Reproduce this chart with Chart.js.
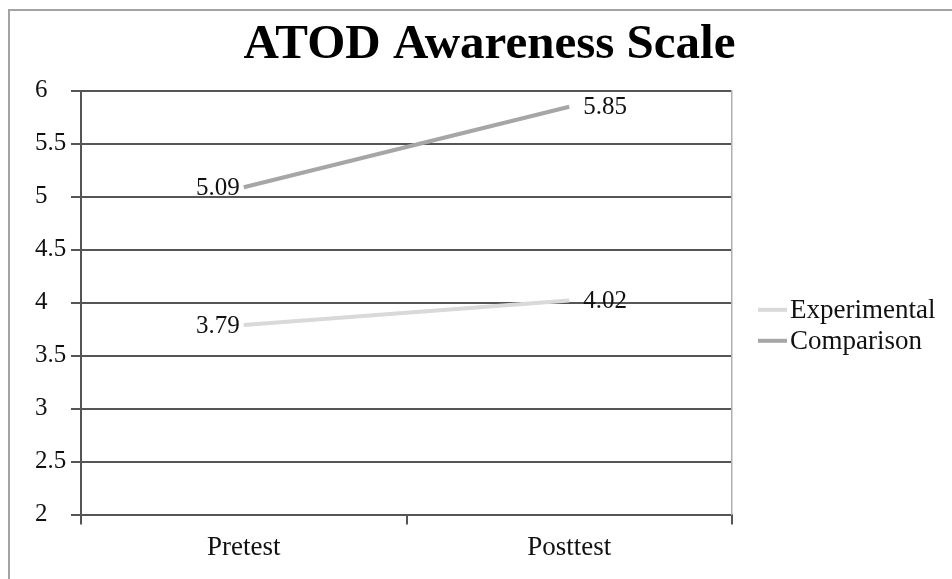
<!DOCTYPE html>
<html>
<head>
<meta charset="utf-8">
<title>ATOD Awareness Scale</title>
<script src="https://cdn.jsdelivr.net/npm/chart.js@4.4.1/dist/chart.umd.min.js"></script>
<style>
  html, body { margin: 0; padding: 0; background: #fff; }
  #wrap { width: 952px; height: 579px; position: relative; }
</style>
</head>
<body>
<div id="wrap"><canvas id="c" width="952" height="579"></canvas></div>
<script>
// Survey means, pre and post
const categories = ['Pretest', 'Posttest'];
const seriesNames = ['Experimental', 'Comparison'];
const experimental = [3.79, 4.02];
const comparison = [5.09, 5.85];
const yMin = 2, yMax = 6, yStep = 0.5;

const SERIF = "'Liberation Serif', 'Times New Roman', serif";
const seriesColors = ['#d9d9d9', '#a6a6a6'];

// Outer frame (left and top edges) plus white background
const framePlugin = {
  id: 'frame',
  beforeDraw(chart) {
    const ctx = chart.ctx;
    ctx.save();
    ctx.fillStyle = '#ffffff';
    ctx.fillRect(0, 0, chart.width, chart.height);
    ctx.strokeStyle = '#a3a3a3';
    ctx.lineWidth = 2;
    ctx.beginPath();
    ctx.moveTo(9, chart.height);
    ctx.lineTo(9, 10);
    ctx.lineTo(chart.width, 10);
    ctx.stroke();
    ctx.restore();
  }
};

// Value labels beside each end of the lines
const valueLabelPlugin = {
  id: 'valueLabels',
  afterDatasetsDraw(chart) {
    const ctx = chart.ctx;
    ctx.save();
    ctx.font = '25px ' + SERIF;
    ctx.fillStyle = '#111';
    ctx.textBaseline = 'middle';
    chart.data.datasets.forEach((ds, di) => {
      const meta = chart.getDatasetMeta(di);
      meta.data.forEach((pt, i) => {
        const txt = ds.data[i].toFixed(2);
        if (i === 0) {
          ctx.textAlign = 'right';
          ctx.fillText(txt, pt.x - 4, pt.y + 1);
        } else {
          ctx.textAlign = 'left';
          ctx.fillText(txt, pt.x + 14, pt.y + 1);
        }
      });
    });
    ctx.restore();
  }
};

// Legend on the right with line swatches
const sideLegendPlugin = {
  id: 'sideLegend',
  afterDraw(chart) {
    const ctx = chart.ctx;
    const area = chart.chartArea;
    const x0 = area.right + 26;
    ctx.save();
    ctx.font = '27px ' + SERIF;
    ctx.textAlign = 'left';
    ctx.textBaseline = 'middle';
    chart.data.datasets.forEach((ds, i) => {
      const y = area.top + 219 + i * 31;
      ctx.strokeStyle = ds.borderColor;
      ctx.lineWidth = 4;
      ctx.beginPath();
      ctx.moveTo(x0, y);
      ctx.lineTo(x0 + 29, y);
      ctx.stroke();
      ctx.fillStyle = '#111';
      ctx.fillText(ds.label, x0 + 32, y + 1);
    });
    ctx.restore();
  }
};

new Chart(document.getElementById('c'), {
  type: 'line',
  data: {
    labels: categories,
    datasets: [
      { label: seriesNames[0], data: experimental, borderColor: seriesColors[0], backgroundColor: seriesColors[0] },
      { label: seriesNames[1], data: comparison, borderColor: seriesColors[1], backgroundColor: seriesColors[1] }
    ]
  },
  options: {
    responsive: false,
    animation: false,
    devicePixelRatio: 1,
    layout: { padding: { left: 35, right: 8, top: 0, bottom: 8 } },
    elements: {
      line: { borderWidth: 4, tension: 0, borderCapStyle: 'butt' },
      point: { radius: 0, hoverRadius: 0 }
    },
    plugins: {
      legend: { display: false },
      tooltip: { enabled: false },
      title: {
        display: true,
        text: 'ATOD Awareness Scale',
        color: '#000',
        font: { family: SERIF, size: 49, weight: 'bold', lineHeight: 1.2 },
        padding: { top: 16, bottom: 16 }
      }
    },
    scales: {
      x: {
        type: 'category',
        offset: true,
        grid: { display: true, drawOnChartArea: false, offset: true, tickLength: 10, color: '#555', lineWidth: 2 },
        border: { display: true, color: '#555', width: 2 },
        ticks: { color: '#111', padding: 7, font: { family: SERIF, size: 27 } }
      },
      y: {
        min: yMin,
        max: yMax,
        grid: { color: '#555', lineWidth: 2, tickLength: 10 },
        border: { display: true, color: '#555', width: 2 },
        ticks: {
          stepSize: yStep,
          color: '#111',
          padding: 4,
          crossAlign: 'far',
          font: { family: SERIF, size: 25 },
          callback: (v) => String(Number(v))
        },
        afterFit(scale) { scale.width = 46; }
      },
      yRight: {
        position: 'right',
        min: yMin,
        max: yMax,
        grid: { display: false, drawOnChartArea: false, drawTicks: false },
        border: { display: true, color: '#b0b0b0', width: 1.5 },
        ticks: { display: false },
        afterFit(scale) { scale.width = 212; }
      }
    }
  },
  plugins: [framePlugin, valueLabelPlugin, sideLegendPlugin]
});
</script>
</body>
</html>
